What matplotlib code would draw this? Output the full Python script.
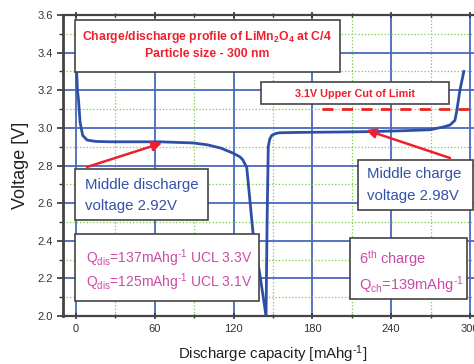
import numpy as np
import matplotlib.pyplot as plt
from matplotlib.patches import Rectangle
from matplotlib.ticker import MultipleLocator

plt.rcParams['font.family'] = ['Liberation Sans', 'DejaVu Sans']
plt.rcParams['mathtext.fontset'] = 'custom'
plt.rcParams['mathtext.rm'] = 'Liberation Sans'
plt.rcParams['mathtext.it'] = 'Liberation Sans'
plt.rcParams['mathtext.bf'] = 'Liberation Sans:bold'

# discharge curve (capacity mAh/g, voltage V)
dis_cap = [0, 0.5, 1.0, 1.8, 3, 5, 8.4, 15, 26, 45, 64, 80, 89, 100, 110, 119.5, 125, 127, 130, 134.8, 140, 144.7]
dis_v = [3.35, 3.28, 3.2, 3.15, 3.03, 2.96, 2.935, 2.928, 2.926, 2.926, 2.926, 2.922, 2.92, 2.91, 2.893, 2.866, 2.845, 2.83, 2.79, 2.44, 2.22, 2.0]

# 6th charge curve
ch_cap = [144.7, 145.5, 146.4, 147.5, 149, 152, 155, 170, 200, 224, 250, 270, 275, 280, 284.8, 288.6, 290, 292.4, 295.4]
ch_v = [2.0, 2.5, 2.9, 2.94, 2.96, 2.97, 2.974, 2.976, 2.978, 2.98, 2.985, 2.99, 2.998, 3.005, 3.015, 3.04, 3.09, 3.2, 3.30]

cutoff_v = 3.1
cutoff_start = 187

W, H = 474, 364
fig = plt.figure(figsize=(W / 100, H / 100), dpi=100)
ax = fig.add_axes([63 / W, 48 / H, 420 / W, 301 / H])

line_col = '#2d4fa6'
ax.plot(dis_cap, dis_v, color=line_col, lw=2, zorder=3)
ax.plot(ch_cap, ch_v, color=line_col, lw=2, zorder=3)
ax.plot([cutoff_start, 320], [cutoff_v, cutoff_v], color='#ee2222', lw=2, ls=(0, (4, 3)), zorder=3)

ax.set_xlim(-10, 310)
ax.set_ylim(2.0, 3.6)
ax.xaxis.set_major_locator(MultipleLocator(60))
ax.xaxis.set_minor_locator(MultipleLocator(30))
ax.yaxis.set_major_locator(MultipleLocator(0.2))
ax.yaxis.set_minor_locator(MultipleLocator(0.1))
ax.yaxis.set_major_formatter(plt.FormatStrFormatter('%.1f'))
ax.grid(which='major', color='#4a68bd', lw=1.3, zorder=1)
ax.grid(which='minor', color='#77cc44', lw=0.9, ls=':', zorder=1)
ax.set_axisbelow(True)
ax.tick_params(which='major', direction='out', length=4, width=1.2, colors='#333333', labelsize=8, top=True)
ax.tick_params(which='minor', direction='out', length=3, width=1.0, colors='#333333', top=True)
ax.tick_params(axis='x', which='both', top=True, direction='inout')
for s in ax.spines.values():
    s.set_color('#444444')
    s.set_linewidth(1.6)
ax.spines['left'].set_linewidth(2)

ax.set_ylabel('Voltage [V]', fontsize=13, color='#222222', labelpad=6)
fig.text(273 / W, 1 - 354 / H, r'Discharge capacity [mAhg$^{\text{-1}}$]', ha='center', va='center',
         fontsize=10.8, color='#222222')


def px(x, y):
    return x / W, 1 - y / H


def box(x0, y0, x1, y1):
    r = Rectangle(px(x0, y1), (x1 - x0) / W, (y1 - y0) / H, transform=fig.transFigure,
                  facecolor='white', edgecolor='#444444', lw=1.2, zorder=5)
    fig.patches.append(r)


red = '#ee2030'
blue = '#3551a8'
mag = '#cc4aa8'

box(75, 20, 340, 72)
fig.text(*px(207, 37), r'Charge/discharge profile of LiMn$_\mathbf{2}$O$_\mathbf{4}$ at C/4',
         ha='center', va='center', color=red, fontsize=8.8, fontweight='bold', zorder=6)
fig.text(*px(207, 54), 'Particle size - 300 nm', ha='center', va='center', color=red,
         fontsize=8.8, fontweight='bold', zorder=6)

box(261, 82, 449, 104)
fig.text(*px(355, 94), '3.1V Upper Cut of Limit', ha='center', va='center', color=red,
         fontsize=7.8, fontweight='bold', zorder=6)

box(75, 169, 208, 220)
fig.text(*px(85, 185), 'Middle discharge', ha='left', va='center', color=blue, fontsize=10.8, zorder=6)
fig.text(*px(85, 206), 'voltage 2.92V', ha='left', va='center', color=blue, fontsize=10.8, zorder=6)

box(358, 160, 473, 210)
fig.text(*px(367, 174), 'Middle charge', ha='left', va='center', color=blue, fontsize=10.8, zorder=6)
fig.text(*px(367, 196), 'voltage 2.98V', ha='left', va='center', color=blue, fontsize=10.8, zorder=6)

box(75, 234, 259, 301)
fig.text(*px(86, 258), r'Q$_{\rm dis}$=137mAhg$^{\text{-1}}$ UCL 3.3V', ha='left', va='center',
         color=mag, fontsize=10, zorder=6)
fig.text(*px(86, 282), r'Q$_{\rm dis}$=125mAhg$^{\text{-1}}$ UCL 3.1V', ha='left', va='center',
         color=mag, fontsize=10, zorder=6)

box(350, 238, 467, 299)
fig.text(*px(359, 259), r'6$^{\rm th}$ charge', ha='left', va='center', color=mag, fontsize=10.5, zorder=6)
fig.text(*px(359, 285), r'Q$_{\rm ch}$=139mAhg$^{\text{-1}}$', ha='left', va='center', color=mag,
         fontsize=10.5, zorder=6)

arrow = dict(arrowstyle='-|>', color=red, lw=1.8, mutation_scale=14, shrinkA=0, shrinkB=0)
fig.add_artist(plt.Annotation('', xy=px(162, 143), xytext=px(87, 167),
                              xycoords='figure fraction', textcoords='figure fraction',
                              arrowprops=arrow, zorder=7))
fig.add_artist(plt.Annotation('', xy=px(366, 130), xytext=px(450, 158),
                              xycoords='figure fraction', textcoords='figure fraction',
                              arrowprops=arrow, zorder=7))

fig.savefig('out.png', dpi=100)
